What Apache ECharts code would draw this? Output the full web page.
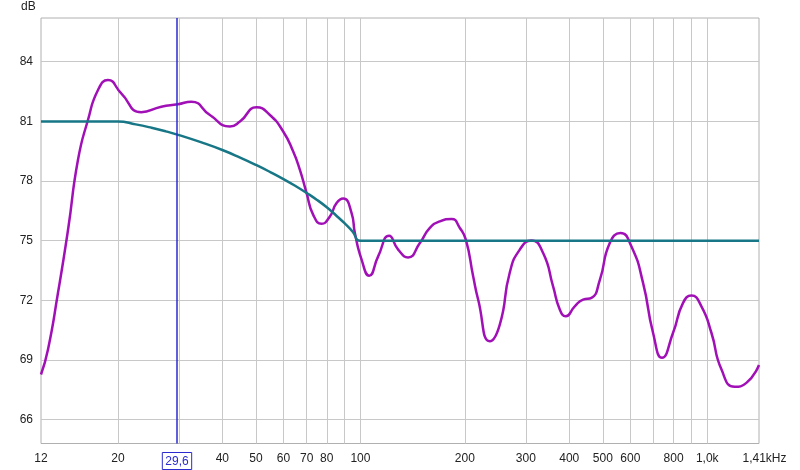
<!DOCTYPE html>
<html>
<head>
<meta charset="utf-8">
<script src="https://cdn.jsdelivr.net/npm/echarts@6/dist/echarts.min.js"></script>
<style>
html,body{margin:0;padding:0;background:#fff;}
#chart{width:800px;height:470px;}
</style>
</head>
<body>
<div id="chart"></div>
<script>
// Measured response (magenta)
const measFreq = [12, 12.57, 13.43, 14.36, 15.34, 16.39, 17.52, 18.72, 20.44, 23.35, 26.67, 29.79, 32.54, 36.83, 42.06, 44.95, 50.2, 54.85, 59.91, 64.02, 66.93, 69.97, 73.11, 77.3, 81.67, 85.39, 89.21, 94.32, 96.41, 100.8, 106.0, 112.5, 121.0, 128.5, 137.3, 148.4, 158.6, 169.5, 183.2, 193.5, 201.4, 211.4, 218.5, 236.2, 252.3, 269.6, 288.1, 311.4, 336.4, 359.4, 375.7, 391.0, 415.0, 438.5, 463.7, 490.0, 523.6, 562.2, 604.6, 653.0, 697.8, 740.7, 797.0, 851.7, 900.5, 962.0, 1028, 1098.6, 1200, 1296.9, 1410];
const measDb = [68.27, 69.53, 72.37, 75.55, 79.07, 81.07, 82.58, 83.08, 82.41, 81.46, 81.74, 81.86, 81.99, 81.32, 80.74, 80.99, 81.71, 81.32, 80.49, 79.48, 78.56, 77.39, 76.30, 75.85, 76.22, 76.89, 77.12, 76.39, 75.39, 74.05, 73.24, 74.21, 75.25, 74.55, 74.16, 74.88, 75.64, 75.97, 76.09, 75.64, 75.05, 73.21, 72.04, 69.94, 70.78, 73.4, 74.55, 75.01, 74.38, 72.70, 71.54, 71.20, 71.70, 72.04, 72.12, 73.02, 74.88, 75.39, 74.71, 72.88, 70.37, 69.11, 70.37, 71.87, 72.24, 71.70, 70.37, 68.53, 67.65, 67.85, 68.75];

// Target curve (teal)
const targetFreq = [12, 20, 22.5, 25, 27.5, 30, 35, 40, 45, 50, 55, 60, 65, 70, 75, 80, 85, 90, 95, 100, 1410];
const targetDb = [81, 81, 80.85, 80.68, 80.5, 80.31, 79.93, 79.56, 79.18, 78.81, 78.45, 78.1, 77.75, 77.4, 77.05, 76.68, 76.28, 75.88, 75.46, 75.0, 75.0];

// Axes
const xGridValues = [20, 30, 40, 50, 60, 70, 80, 90, 100, 200, 300, 400, 500, 600, 700, 800, 900, 1000];
const xLabelValues = [12, 20, 29.6, 40, 50, 60, 70, 80, 100, 200, 300, 400, 500, 600, 800, 1000, 1410];
const yTickValues = [66, 69, 72, 75, 78, 81, 84];
const cursorFreq = 29.6;
const xMin = 12, xMax = 1410, yMin = 64.8, yMax = 86.2;

const measData = measFreq.map((f, i) => [f, measDb[i]]);
const targetData = targetFreq.map((f, i) => [f, targetDb[i]]);

function xLabel(v) {
  if (Math.abs(v - cursorFreq) < 0.01) return '{c|29,6}';
  if (Math.abs(v - 1410) < 1) return '{e|1,41kHz}';
  if (Math.abs(v - 1000) < 1) return '1,0k';
  return String(Math.round(v));
}

const FONT = '"Liberation Sans", Arial, sans-serif';
const chart = echarts.init(document.getElementById('chart'), null, {renderer: 'canvas'});
chart.setOption({
  animation: false,
  backgroundColor: '#ffffff',
  grid: {left: 41, right: 41, top: 18, bottom: 26, show: true, borderColor: '#b0b0b0', borderWidth: 1},
  graphic: [{type: 'text', left: 21, top: 1, style: {text: 'dB', font: '12px ' + FONT, fill: '#222'}}],
  xAxis: {
    type: 'log', logBase: 10, min: xMin, max: xMax,
    axisLine: {show: false},
    axisTick: {show: false, customValues: xGridValues},
    splitLine: {show: true, lineStyle: {color: '#c8c8c8', width: 1}},
    axisLabel: {
      customValues: xLabelValues, margin: 9, color: '#222', fontSize: 12, fontFamily: FONT,
      formatter: xLabel,
      rich: {
        c: {color: '#2b2bd0', borderColor: '#2b2bd0', borderWidth: 1, padding: [3, 3, 2, 3], fontSize: 12, fontFamily: FONT},
        e: {color: '#222', padding: [0, 0, 0, 11], fontSize: 12, fontFamily: FONT}
      }
    }
  },
  yAxis: {
    type: 'value', min: yMin, max: yMax,
    axisLine: {show: false},
    axisTick: {show: false, customValues: yTickValues},
    splitLine: {show: true, lineStyle: {color: '#c8c8c8', width: 1}},
    axisLabel: {customValues: yTickValues, color: '#222', fontSize: 12, fontFamily: FONT, margin: 8}
  },
  series: [
    {
      type: 'line', data: targetData, showSymbol: false, smooth: 0.5,
      lineStyle: {color: '#177786', width: 2.5}, z: 3
    },
    {
      type: 'line', data: measData, showSymbol: false, smooth: 0.55,
      lineStyle: {color: '#a10fb6', width: 2.5}, z: 2,
      markLine: {
        silent: true, symbol: 'none', animation: false,
        lineStyle: {color: '#2b2bd0', width: 1.5, type: 'solid'},
        label: {show: false},
        data: [{xAxis: cursorFreq}]
      }
    }
  ]
});
</script>
</body>
</html>
